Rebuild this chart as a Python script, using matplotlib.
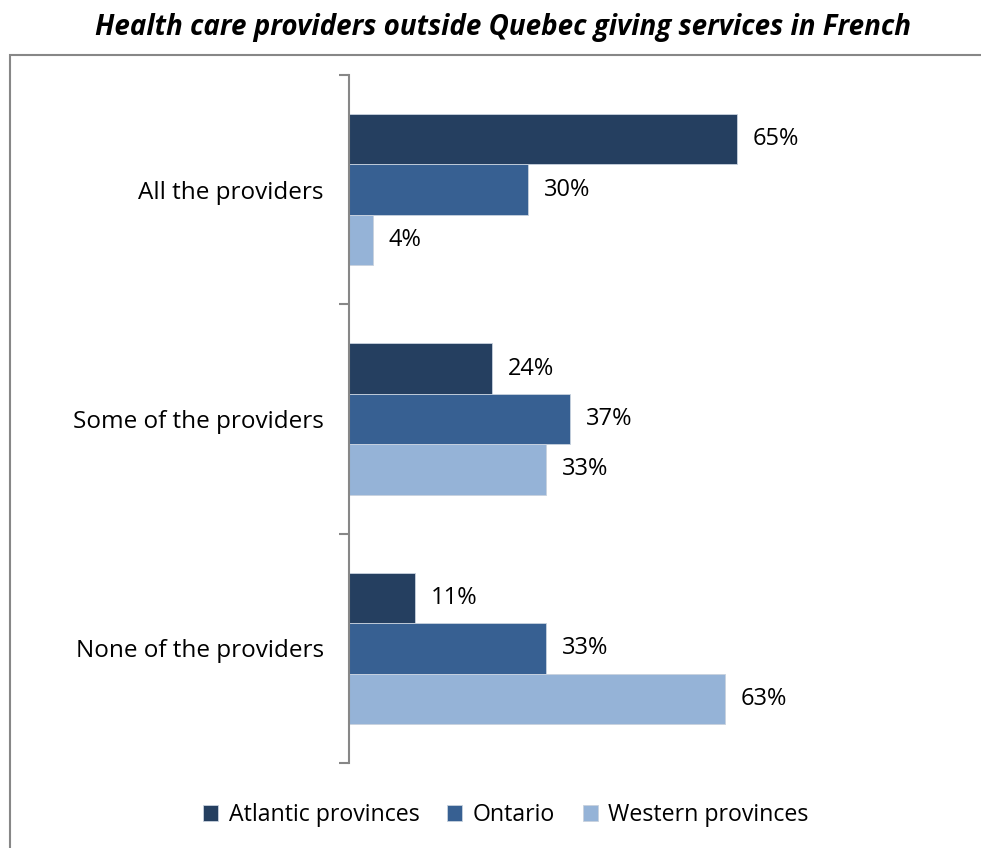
import matplotlib
matplotlib.use("Agg")
import matplotlib.pyplot as plt
from matplotlib.patches import Rectangle
import numpy as np

categories = ["All the providers", "Some of the providers", "None of the providers"]
series_names = ["Atlantic provinces", "Ontario", "Western provinces"]
atlantic = [65, 24, 11]
ontario = [30, 37, 33]
western = [4, 33, 63]
colors = ["#253F60", "#376092", "#95B3D7"]
title = "Health care providers outside Quebec giving services in French"

plt.rcParams['font.family'] = ['Open Sans', 'DejaVu Sans']

fig = plt.figure(figsize=(9.81, 8.48), dpi=100)
ax = fig.add_axes([349/981, 1-763/848, 597/981, 688/848])

# frame
fig.patches.append(Rectangle((10/981, -0.01), 1.0, 1-55/848+0.01, transform=fig.transFigure,
                             fill=False, edgecolor="#878787", linewidth=1.5, clip_on=False))

y = np.arange(len(categories))
h = 0.22
for i, (vals, name, c) in enumerate(zip([atlantic, ontario, western], series_names, colors)):
    pos = y + (i - 1) * h
    bars = ax.barh(pos, vals, height=h, color=c, label=name, edgecolor="#c8d2de", linewidth=0.6)
    for b, v in zip(bars, vals):
        ax.annotate(f"{v}%", (v, b.get_y() + b.get_height()/2), xytext=(11.5, 0),
                    textcoords="offset points", va="center", ha="left", fontsize=17)

ax.set_xlim(0, 100)
ax.set_ylim(2.5, -0.5)
ax.set_yticks(y)
ax.set_yticklabels(categories, fontsize=17.5)
ax.set_yticks([-0.5, 0.5, 1.5, 2.5], minor=True)
ax.tick_params(axis='y', which='major', length=0, pad=18)
ax.tick_params(axis='y', which='minor', length=7, width=1.5, color="#878787")
ax.set_xticks([])
for s in ["top", "right", "bottom"]:
    ax.spines[s].set_visible(False)
ax.spines["left"].set_color("#878787")
ax.spines["left"].set_linewidth(1.5)

fig.text(503/981, 1-27/848, title, ha="center", va="center", fontsize=20,
         fontweight="bold", fontstyle="italic")

handles, labels = ax.get_legend_handles_labels()
fig.legend(handles, labels, loc="center", bbox_to_anchor=(506/981, 1-815/848), ncol=3,
           frameon=False, fontsize=16.7, handlelength=0.65, handleheight=0.65,
           handletextpad=0.45, columnspacing=1.2)

fig.savefig("out.png", dpi=100)
